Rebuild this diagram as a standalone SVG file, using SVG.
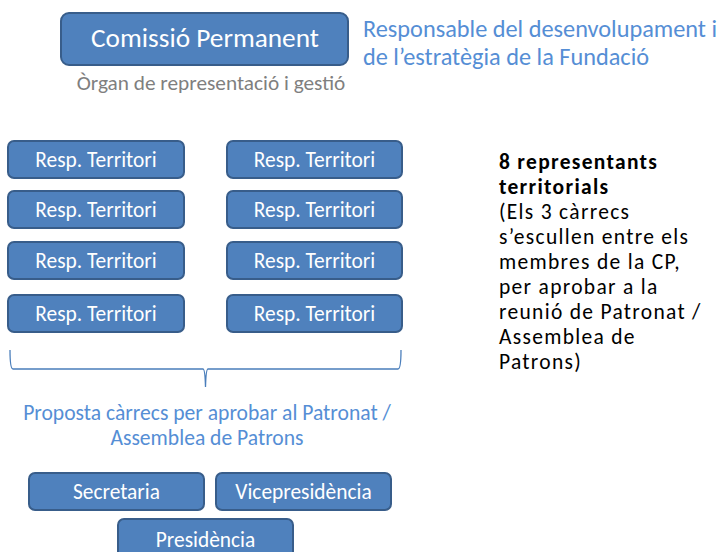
<svg xmlns="http://www.w3.org/2000/svg" width="723" height="552" viewBox="0 0 723 552">
<style>
text{font-family:Carlito,Lato,"Liberation Sans",sans-serif}
.box{fill:#4f81bd;stroke:#385d8a;stroke-width:2}
.bt{fill:#ffffff;font-size:21.4px;text-anchor:middle}
.blue{fill:#558ed5}
.note{fill:#000000;font-size:21.5px;letter-spacing:1.3px}
</style>
<g id="comissio">
<rect class="box" x="61" y="13" width="287" height="52" rx="8"/>
<text class="bt" x="205" y="47" style="font-size:27.3px">Comissió Permanent</text>
<text x="211" y="90" style="font-size:21.3px;fill:#7f7f7f;text-anchor:middle">Òrgan de representació i gestió</text>
</g>
<g id="responsable">
<text class="blue" x="363" y="37" style="font-size:24.3px">Responsable del desenvolupament i</text>
<text class="blue" x="363" y="65" style="font-size:24.3px">de l’estratègia de la Fundació</text>
</g>
<g id="t1"><rect class="box" x="8" y="141" width="176" height="37" rx="6"/><text class="bt" x="96" y="167">Resp. Territori</text></g>
<g id="t2"><rect class="box" x="227" y="141" width="175" height="37" rx="6"/><text class="bt" x="314.5" y="167">Resp. Territori</text></g>
<g id="t3"><rect class="box" x="8" y="191" width="176" height="37" rx="6"/><text class="bt" x="96" y="217">Resp. Territori</text></g>
<g id="t4"><rect class="box" x="227" y="191" width="175" height="37" rx="6"/><text class="bt" x="314.5" y="217">Resp. Territori</text></g>
<g id="t5"><rect class="box" x="8" y="242" width="176" height="37" rx="6"/><text class="bt" x="96" y="268">Resp. Territori</text></g>
<g id="t6"><rect class="box" x="227" y="242" width="175" height="37" rx="6"/><text class="bt" x="314.5" y="268">Resp. Territori</text></g>
<g id="t7"><rect class="box" x="8" y="295" width="176" height="37" rx="6"/><text class="bt" x="96" y="321">Resp. Territori</text></g>
<g id="t8"><rect class="box" x="227" y="295" width="175" height="37" rx="6"/><text class="bt" x="314.5" y="321">Resp. Territori</text></g>
<g id="connectors">
<path d="M10 350 Q10 369 13 369 L203 369 Q205 369 205.5 387 Q206 369 208 369 L398 369 Q401 369 401 350" fill="none" stroke="#4a7ebb" stroke-width="1.3"/>
</g>
<g id="proposta">
<text class="blue" x="207" y="420" style="font-size:21.6px;text-anchor:middle">Proposta càrrecs per aprobar al Patronat /</text>
<text class="blue" x="207" y="445" style="font-size:21.6px;text-anchor:middle">Assemblea de Patrons</text>
</g>
<g id="secretaria"><rect class="box" x="29" y="473" width="175" height="37" rx="6"/><text class="bt" x="116.5" y="499">Secretaria</text></g>
<g id="vicepresidencia"><rect class="box" x="216" y="473" width="175" height="37" rx="6"/><text class="bt" x="303.5" y="499">Vicepresidència</text></g>
<g id="presidencia"><rect class="box" x="118" y="519" width="175" height="45" rx="6"/><text class="bt" x="205.5" y="547">Presidència</text></g>
<g id="nota">
<text class="note" x="499" y="169" style="font-weight:bold">8 representants</text>
<text class="note" x="499" y="194" style="font-weight:bold">territorials</text>
<text class="note" x="499" y="219">(Els 3 càrrecs</text>
<text class="note" x="499" y="244">s’escullen entre els</text>
<text class="note" x="499" y="269">membres de la CP,</text>
<text class="note" x="499" y="294">per aprobar a la</text>
<text class="note" x="499" y="319">reunió de Patronat /</text>
<text class="note" x="499" y="344">Assemblea de</text>
<text class="note" x="499" y="369">Patrons)</text>
</g>
</svg>
